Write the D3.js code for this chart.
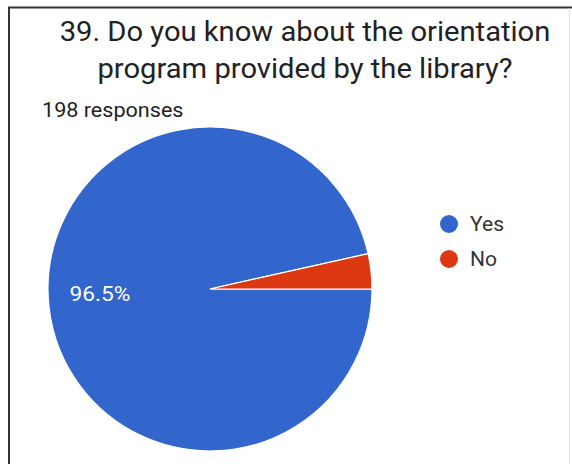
<!DOCTYPE html>
<html>
<head>
<meta charset="utf-8">
<script src="https://cdn.jsdelivr.net/npm/d3@7/dist/d3.min.js"></script>
<style>
  html, body { margin: 0; padding: 0; background: #fff; }
  svg { display: block; font-family: Roboto, "Noto Sans", Arial, sans-serif; }
</style>
</head>
<body>
<svg id="chart" width="572" height="464"></svg>
<script>
// Survey answers
const categories = ["Yes", "No"];
const values = [96.5, 3.5];
const colors = ["#3366cc", "#dc3912"];
const titleLines = ["39. Do you know about the orientation", "program provided by the library?"];
const subtitle = "198 responses";

const svg = d3.select("#chart");

// Card frame
svg.append("line").attr("x1", 8).attr("y1", 7.5).attr("x2", 572).attr("y2", 7.5)
  .attr("stroke", "#333").attr("stroke-width", 2);
svg.append("line").attr("x1", 9).attr("y1", 7).attr("x2", 9).attr("y2", 464)
  .attr("stroke", "#333").attr("stroke-width", 2);
svg.append("line").attr("x1", 569.5).attr("y1", 8).attr("x2", 569.5).attr("y2", 464)
  .attr("stroke", "#e4e4e4").attr("stroke-width", 1);

// Text is drawn slightly widened
const wide = (sel, x, y) => sel.attr("transform", `translate(${x},${y}) scale(1.08,1)`);

// Title
svg.append("g").selectAll("text").data(titleLines).join("text")
  .call(s => s.attr("transform", (d, i) => `translate(305,${41 + i * 37}) scale(1.08,1)`))
  .attr("text-anchor", "middle")
  .attr("font-size", 27).attr("fill", "#222")
  .text(d => d);

svg.append("text").call(wide, 42, 117)
  .attr("font-size", 20).attr("fill", "#222").text(subtitle);

// Pie
const cx = 210, cy = 289, r = 162;
const data = categories.map((c, i) => ({ c, v: values[i], color: colors[i] }));
const pie = d3.pie().value(d => d.v).sort(null)
  .startAngle(Math.PI / 2).endAngle(Math.PI / 2 + 2 * Math.PI);
const arc = d3.arc().innerRadius(0).outerRadius(r);
const arcs = pie(data);

const g = svg.append("g").attr("transform", `translate(${cx},${cy})`);
g.selectAll("path").data(arcs).join("path")
  .attr("d", arc)
  .attr("fill", d => d.data.color)
  .attr("stroke", "#fff").attr("stroke-width", 1.2);

// Percentage label on the large slice
const fmt = d3.format(".1f");
arcs.filter(d => d.data.v > 10).forEach(d => {
  g.append("text").call(wide, -110, 12)
    .attr("text-anchor", "middle").attr("font-size", 21)
    .attr("fill", "#fff").text(fmt(d.data.v) + "%");
});

// Legend
const legend = svg.append("g").attr("transform", "translate(449,224)");
const items = legend.selectAll("g").data(data).join("g")
  .attr("transform", (d, i) => `translate(0,${i * 35})`);
items.append("circle").attr("r", 9).attr("fill", d => d.color);
items.append("text").call(wide, 21, 7)
  .attr("font-size", 19.5).attr("fill", "#333").text(d => d.c);
</script>
</body>
</html>
